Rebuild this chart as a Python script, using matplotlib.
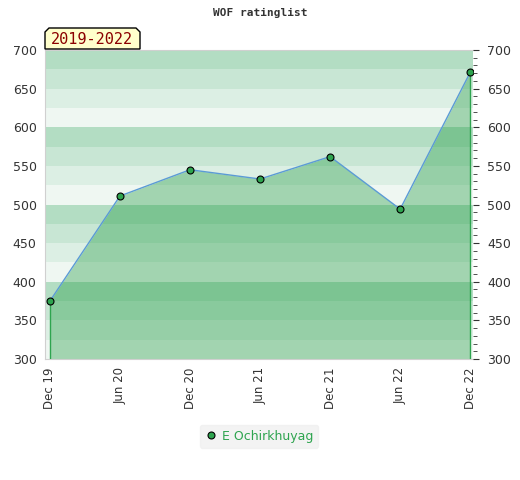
import matplotlib.pyplot as plt
from matplotlib.patches import Polygon

# Daten
labels = ['Dec 19', 'Jun 20', 'Dec 20', 'Jun 21', 'Dec 21', 'Jun 22', 'Dec 22']
rating = [375, 511, 545, 533, 562, 494, 671]
player = 'E Ochirkhuyag'
band_colors = ['#b3ddc3', '#c8e6d4', '#dcefe4', '#eff7f2']

fig = plt.figure(figsize=(5.2, 4.8), dpi=100)
ax = fig.add_axes([45 / 520, 1 - 359 / 480, 428 / 520, 309 / 480])

x = list(range(len(rating)))

# Hintergrundstreifen
for i, lo in enumerate(range(700, 300, -25)):
    ax.axhspan(lo - 25, lo, color=band_colors[i % 4], lw=0, zorder=0)

ax.fill_between(x, rating, 300, color=(30 / 255, 154 / 255, 63 / 255), alpha=0.37, lw=0, zorder=1)
ax.plot(x, rating, color='#5b9bd5', lw=1, zorder=3)
ax.vlines([x[0], x[-1]], 300, [rating[0], rating[-1]], color='#2ea44f', lw=1, zorder=3)
ax.plot(x, rating, ls='none', marker='o', ms=5, mfc='#2ea44f', mec='black', mew=0.8, zorder=4,
        label=player)

ax.set_xlim(-0.07, 6.04)
ax.set_ylim(300, 700)
ax.set_xticks(x)
ax.set_xticklabels(labels, rotation=90, fontsize=8.5, color='#333333')
ax.set_yticks(range(300, 701, 50))
ax.tick_params(axis='y', length=0, labelsize=9, colors='#333333', pad=6)
ax.tick_params(axis='x', length=0, pad=6)

# rechte Achse mit kleinen Strichen
ax2 = ax.twinx()
ax2.set_ylim(300, 700)
ax2.set_yticks(range(300, 701, 50))
ax2.set_yticks(range(300, 701, 10), minor=True)
ax2.tick_params(axis='y', which='major', length=4, labelsize=9, colors='#333333', pad=6)
ax2.tick_params(axis='y', which='minor', length=3, color='#333333')
ax2.tick_params(axis='y', which='major', color='#333333')

for a in (ax, ax2):
    for s in a.spines.values():
        s.set_visible(False)
ax.spines['left'].set_visible(True)
ax.spines['left'].set_color('#d0d0d0')
ax.spines['bottom'].set_visible(True)
ax.spines['bottom'].set_color('#d0d0d0')
ax.spines['top'].set_visible(True)
ax.spines['top'].set_color('#d0d0d0')

fig.text(0.5, 1 - 13 / 480, 'WOF ratinglist', ha='center', va='center', fontsize=8,
         family='DejaVu Sans Mono', fontweight='bold', color='#333333')

# Zeitraum-Kasten
bx0, bx1, by0, by1, c = 45, 140, 49, 28, 4
pts = [(bx0, by0), (bx0, by1 + c), (bx0 + c, by1), (bx1 - c, by1), (bx1, by1 + c), (bx1, by0)]
pts = [(px / 520, 1 - py / 480) for px, py in pts]
fig.add_artist(Polygon(pts, closed=True, transform=fig.transFigure, fc='#ffffcc', ec='black', lw=1))
fig.text(92 / 520, 1 - 40 / 480, '2019-2022', ha='center', va='center', fontsize=11,
         family='DejaVu Sans Mono', color='#8b0000')

leg = ax.legend(loc='center', bbox_to_anchor=(0.5, -0.25), frameon=True, fontsize=9,
                handletextpad=0.4, borderpad=0.4, handlelength=1)
leg.get_frame().set_facecolor('#f0f0f0')
leg.get_frame().set_edgecolor('#f0f0f0')
for t in leg.get_texts():
    t.set_color('#2ea44f')

fig.savefig('out.png', dpi=100)
